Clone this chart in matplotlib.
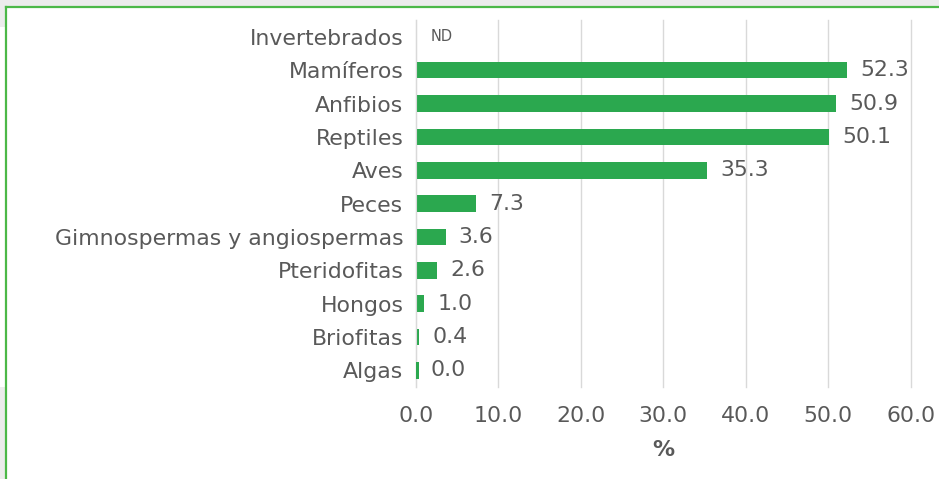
import numpy as np
import matplotlib.pyplot as plt
from matplotlib.patches import Rectangle
from matplotlib.lines import Line2D

plt.rcParams['font.family'] = ['DejaVu Sans']

categorias = ["Invertebrados", "Mamíferos", "Anfibios", "Reptiles", "Aves", "Peces",
              "Gimnospermas y angiospermas", "Pteridofitas", "Hongos", "Briofitas", "Algas"]
porcentajes = [np.nan, 52.3, 50.9, 50.1, 35.3, 7.3, 3.6, 2.6, 1.0, 0.4, 0.0]
xticks = [0, 10, 20, 30, 40, 50, 60]

bar_color = "#2BA84F"
text_color = "#595959"
fs = 15.8

fig = plt.figure(figsize=(9.39, 4.79), dpi=100)
ax = fig.add_axes([0.443, 0.192, 0.527, 0.766])

y = np.arange(len(categorias))[::-1]
vals = np.nan_to_num(porcentajes)
ax.barh(y, vals, height=0.5, color=bar_color, zorder=3)
# tiny stub so near-zero values still show a sliver
for yi, v in zip(y, porcentajes):
    if not np.isnan(v) and v < 0.4:
        ax.barh(yi, 0.35, height=0.5, color=bar_color, zorder=5)

for yi, v in zip(y, porcentajes):
    if np.isnan(v):
        ax.text(1.8, yi, "ND", va="center", ha="left", fontsize=10.5, color=text_color)
    else:
        ax.text(max(v, 0.2) + 1.6, yi, f"{v:.1f}", va="center", ha="left",
                fontsize=fs, color=text_color)

ax.set_yticks(y)
ax.set_yticklabels(categorias, fontsize=fs, color=text_color)
ax.set_xticks(xticks)
ax.set_xticklabels([f"{t:.1f}" for t in xticks], fontsize=fs, color=text_color)
ax.set_xlim(0, 60)
ax.set_ylim(-0.5, len(categorias) - 0.5)
ax.tick_params(length=0, pad=9)
ax.tick_params(axis="x", pad=14)
ax.grid(axis="x", color="#d9d9d9", linewidth=1, zorder=0)
for gl in ax.get_xgridlines():
    gl.set_clip_on(False)
for side in ["top", "right", "bottom"]:
    ax.spines[side].set_visible(False)
ax.spines["left"].set_color("#d9d9d9")
ax.spines["left"].set_zorder(4)
ax.set_xlabel("%", fontsize=fs, color=text_color, fontweight="bold", labelpad=10)

# outer frame: grey margin strips and green border
W, H = 939, 479
def px(x0, y0, w, h, **kw):
    fig.patches.append(Rectangle((x0 / W, 1 - (y0 + h) / H), w / W, h / H,
                                 transform=fig.transFigure, **kw))
px(0, 0, W, 6, color="#ececec", lw=0)
px(0, 0, 5, 27, color="#ececec", lw=0)
px(0, 387, 5, H - 387, color="#ececec", lw=0)
fig.lines.append(Line2D([6 / W, 1], [1 - 7 / H, 1 - 7 / H], transform=fig.transFigure,
                        color="#4cb848", lw=1.6))
fig.lines.append(Line2D([6 / W, 6 / W], [0, 1 - 7 / H], transform=fig.transFigure,
                        color="#4cb848", lw=1.6))

fig.savefig("out.png", dpi=100)
